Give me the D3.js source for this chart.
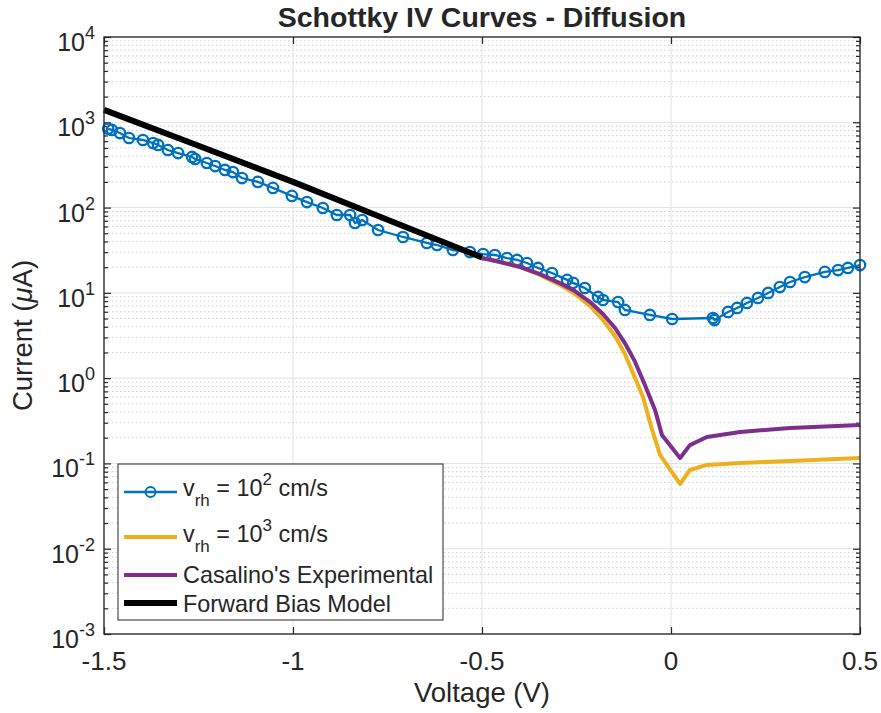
<!DOCTYPE html>
<html>
<head>
<meta charset="utf-8">
<script src="https://cdn.jsdelivr.net/npm/d3@7"></script>
<style>
  body { margin: 0; background: #fff; }
  text { font-family: "Liberation Sans", Arial, Helvetica, sans-serif; fill: #262626; }
</style>
</head>
<body>
<svg id="chart" width="881" height="713"></svg>
<script>
// v_rh = 1e2 cm/s (simulated, with markers)
const voltBlue = [-1.489, -1.479, -1.458, -1.434, -1.397, -1.370, -1.357, -1.331, -1.304, -1.267, -1.259,
  -1.228, -1.206, -1.180, -1.159, -1.135, -1.093, -1.053, -1.003, -0.963, -0.921,
  -0.884, -0.849, -0.836, -0.817, -0.775, -0.709, -0.646, -0.619, -0.577, -0.532,
  -0.497, -0.466, -0.434, -0.407, -0.381, -0.352, -0.315, -0.275, -0.259, -0.228,
  -0.193, -0.180, -0.140, -0.122, -0.056, 0.003, 0.111, 0.115, 0.151, 0.175,
  0.201, 0.230, 0.257, 0.288, 0.315, 0.354, 0.407, 0.442, 0.468, 0.500];
const currBlue = [840, 813, 748, 654, 620, 571, 542, 473, 436, 392, 371,
  333, 307, 276, 261, 222, 200, 170, 137, 116, 98.8,
  81.8, 81.8, 65.9, 71.5, 54.6, 45.2, 38.5, 36.4, 31.8, 30.1,
  28.5, 27.8, 25.6, 24.3, 22.4, 19.6, 17.1, 14.2, 13.1, 11.4,
  8.95, 8.25, 7.81, 6.30, 5.51, 4.94, 5.07, 4.8, 5.97, 6.65,
  7.61, 8.71, 9.97, 11.7, 13.4, 15.3, 17.6, 18.5, 19.6, 21.2];

// v_rh = 1e3 cm/s
const voltYellow = [-0.5, -0.452, -0.399, -0.347, -0.294, -0.254, -0.214, -0.180, -0.148, -0.122,
  -0.095, -0.074, -0.050, -0.029, 0.024, 0.050, 0.095, 0.183, 0.315, 0.500];
const currYellow = [25.6, 23.0, 20.1, 16.2, 12.4, 9.7, 7.0, 4.81, 3.12, 1.92,
  1.00, 0.601, 0.247, 0.126, 0.0574, 0.0838, 0.0960, 0.101, 0.107, 0.116];

// Casalino's experimental
const voltPurple = [-0.5, -0.452, -0.399, -0.347, -0.294, -0.254, -0.214, -0.180, -0.148, -0.122,
  -0.095, -0.069, -0.042, -0.024, 0.024, 0.050, 0.095, 0.183, 0.315, 0.500];
const currPurple = [25.6, 23.0, 20.1, 16.6, 13.0, 10.5, 7.8, 5.65, 3.87, 2.58,
  1.55, 0.83, 0.42, 0.216, 0.116, 0.164, 0.204, 0.234, 0.261, 0.283];

// forward bias model
const voltBlack = [-1.5, -1.25, -1.0, -0.75, -0.5];
const currBlack = [1400, 530, 200, 72, 26];

const xTicks = [-1.5, -1, -0.5, 0, 0.5];
const yExps = [-3, -2, -1, 0, 1, 2, 3, 4];

const legendLabels = ["v_rh = 10^2 cm/s", "v_rh = 10^3 cm/s", "Casalino's Experimental", "Forward Bias Model"];
const colors = ["#0072BD", "#EDB120", "#7E2F8E", "#000000"];

const svg = d3.select("#chart");
const margin = { top: 37, right: 21, bottom: 79, left: 104 };
const width = 881 - margin.left - margin.right;
const height = 713 - margin.top - margin.bottom;

const x = d3.scaleLinear().domain([-1.5, 0.5]).range([0, width]);
const y = d3.scaleLog().domain([1e-3, 1e4]).range([height, 0]);

const g = svg.append("g").attr("transform", `translate(${margin.left},${margin.top})`);

// minor values for log axis
const minorVals = [];
yExps.slice(0, -1).forEach(e => {
  for (let k = 2; k <= 9; k++) minorVals.push(k * Math.pow(10, e));
});

// grid minor (dotted)
g.append("g").selectAll("line").data(minorVals).enter().append("line")
  .attr("x1", 0).attr("x2", width)
  .attr("y1", d => y(d)).attr("y2", d => y(d))
  .attr("stroke", "#cfcfcf").attr("stroke-width", 1).attr("stroke-dasharray", "1.5,2.5");

// grid major
g.append("g").selectAll("line").data(yExps).enter().append("line")
  .attr("x1", 0).attr("x2", width)
  .attr("y1", d => y(Math.pow(10, d))).attr("y2", d => y(Math.pow(10, d)))
  .attr("stroke", "#e2e2e2").attr("stroke-width", 1);
g.append("g").selectAll("line").data(xTicks).enter().append("line")
  .attr("y1", 0).attr("y2", height)
  .attr("x1", d => x(d)).attr("x2", d => x(d))
  .attr("stroke", "#e2e2e2").attr("stroke-width", 1);

// tick marks (inward) on all sides
function ticks(axis) {
  return sel => { sel.call(axis); sel.select(".domain").remove(); sel.selectAll("text").remove();
    sel.selectAll("line").attr("stroke", "#262626").attr("stroke-width", 1.2); };
}
g.append("g").attr("transform", `translate(0,${height})`)
  .call(ticks(d3.axisBottom(x).tickValues(xTicks).tickSize(-7)));
g.append("g").call(ticks(d3.axisTop(x).tickValues(xTicks).tickSize(-7)));
const decVals = yExps.map(e => Math.pow(10, e));
g.append("g").call(ticks(d3.axisLeft(y).tickValues(decVals).tickSize(-7)));
g.append("g").call(ticks(d3.axisLeft(y).tickValues(minorVals).tickSize(-4)));
g.append("g").attr("transform", `translate(${width},0)`)
  .call(ticks(d3.axisRight(y).tickValues(decVals).tickSize(-7)));
g.append("g").attr("transform", `translate(${width},0)`)
  .call(ticks(d3.axisRight(y).tickValues(minorVals).tickSize(-4)));

// curves
const line = d3.line().x(d => x(d[0])).y(d => y(d[1]));
const blue = d3.zip(voltBlue, currBlue);

g.append("path").datum(blue).attr("d", line)
  .attr("fill", "none").attr("stroke", colors[0]).attr("stroke-width", 2.3);
g.append("g").selectAll("circle").data(blue).enter().append("circle")
  .attr("cx", d => x(d[0])).attr("cy", d => y(d[1])).attr("r", 5.2)
  .attr("fill", "none").attr("stroke", colors[0]).attr("stroke-width", 2.3);

g.append("path").datum(d3.zip(voltYellow, currYellow)).attr("d", line)
  .attr("fill", "none").attr("stroke", colors[1]).attr("stroke-width", 4).attr("stroke-linejoin", "round");
g.append("path").datum(d3.zip(voltPurple, currPurple)).attr("d", line)
  .attr("fill", "none").attr("stroke", colors[2]).attr("stroke-width", 4).attr("stroke-linejoin", "round");
g.append("path").datum(d3.zip(voltBlack, currBlack)).attr("d", line)
  .attr("fill", "none").attr("stroke", colors[3]).attr("stroke-width", 6);

// box
g.append("rect").attr("width", width).attr("height", height)
  .attr("fill", "none").attr("stroke", "#262626").attr("stroke-width", 1.3);

// x tick labels
g.append("g").selectAll("text").data(xTicks).enter().append("text")
  .attr("x", d => x(d)).attr("y", height + 36)
  .attr("text-anchor", "middle").style("font-size", "26px")
  .text(d => String(d));

// y tick labels with superscripts
const yl = g.append("g").selectAll("text").data(yExps).enter().append("text")
  .attr("x", -9).attr("y", d => y(Math.pow(10, d)) + 14)
  .attr("text-anchor", "end").style("font-size", "25px");
yl.append("tspan").text("10");
yl.append("tspan").attr("dy", -12).style("font-size", "18px").text(d => String(d));

// axis labels
g.append("text").attr("x", width / 2).attr("y", height + 68)
  .attr("text-anchor", "middle").style("font-size", "27.5px").text("Voltage (V)");
const ylab = g.append("text").attr("transform", "rotate(-90)")
  .attr("x", -height / 2).attr("y", -72)
  .attr("text-anchor", "middle").style("font-size", "27.5px");
ylab.append("tspan").text("Current (");
ylab.append("tspan").style("font-style", "italic").text("\u03BC");
ylab.append("tspan").text("A)");

// title
svg.append("text").attr("x", margin.left + width / 2).attr("y", 27)
  .attr("text-anchor", "middle").style("font-size", "28.5px").style("font-weight", "bold")
  .text("Schottky IV Curves - Diffusion");

// legend
const lg = svg.append("g");
lg.append("rect").attr("x", 118).attr("y", 464).attr("width", 325).attr("height", 156)
  .attr("fill", "#fff").attr("stroke", "#262626").attr("stroke-width", 1);
const rowLine = [492, 537, 575, 603];
const rowText = [496, 542, 583, 612];
const widths = [2.3, 4, 4, 6];
legendLabels.forEach((lab, i) => {
  lg.append("line").attr("x1", 124).attr("x2", 177).attr("y1", rowLine[i]).attr("y2", rowLine[i])
    .attr("stroke", colors[i]).attr("stroke-width", widths[i]);
  if (i === 0) {
    lg.append("circle").attr("cx", 150.5).attr("cy", rowLine[i]).attr("r", 5)
      .attr("fill", "none").attr("stroke", colors[i]).attr("stroke-width", 2);
  }
  const t = lg.append("text").attr("x", 183).attr("y", rowText[i]).style("font-size", "23.4px");
  const m = lab.match(/^v_rh = 10\^(\d) (.*)$/);
  if (m) {
    t.append("tspan").text("v");
    t.append("tspan").attr("dy", 10).style("font-size", "17px").text("rh");
    t.append("tspan").attr("dy", -10).text(" = 10");
    t.append("tspan").attr("dy", -11).style("font-size", "17px").text(m[1]);
    t.append("tspan").attr("dy", 11).text(" " + m[2]);
  } else {
    t.text(lab);
  }
});
</script>
</body>
</html>
